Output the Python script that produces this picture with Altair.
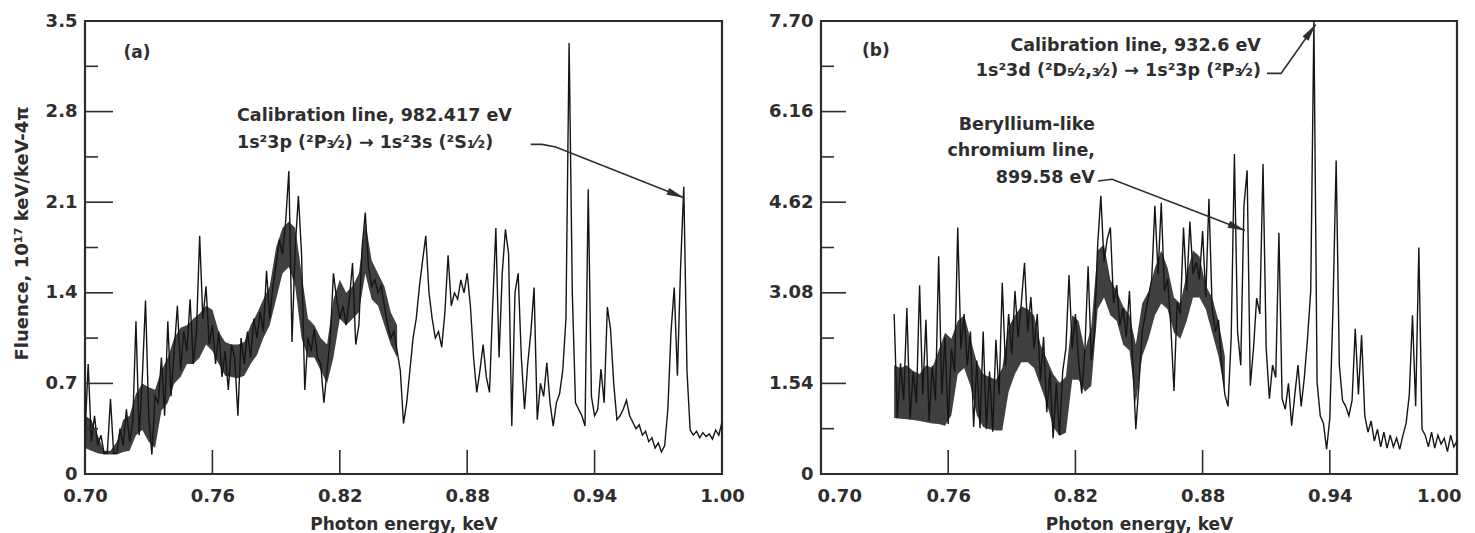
import altair as alt
import pandas as pd

# ---------------- data ----------------
STEP = 0.0015                 # keV between samples of the trace
A_START = 0.700               # first sample of panel (a)
A_FLUENCE = [
    0.30, 0.85, 0.25, 0.45, 0.22, 0.30, 0.16, 0.16, 0.58, 0.16,
    0.16, 0.35, 0.22, 0.50, 0.25, 0.40, 1.18, 0.30, 0.75, 1.34,
    0.45, 0.15, 0.60, 0.55, 0.90, 0.45, 1.18, 0.60, 0.95, 1.30,
    0.80, 1.10, 0.95, 1.35, 0.85, 1.10, 1.84, 1.20, 1.45, 1.00,
    1.15, 0.85, 1.10, 0.75, 0.95, 0.65, 1.00, 0.90, 0.45, 1.05,
    0.85, 1.10, 0.90, 1.20, 1.05, 1.25, 1.10, 1.57, 1.20, 1.45,
    1.62, 1.81, 1.70, 1.95, 2.34, 1.02, 1.75, 2.15, 1.70, 0.65,
    1.05, 0.95, 1.12, 0.90, 0.85, 0.55, 0.80, 1.05, 1.55, 1.35,
    1.20, 1.30, 1.15, 1.35, 1.63, 1.00, 1.15, 1.75, 2.02, 1.60,
    1.45, 1.50, 1.40, 1.45, 1.30, 1.15, 1.05, 1.10, 0.95, 0.80,
    0.39, 0.55, 0.80, 1.05, 1.20, 1.45, 1.65, 1.84, 1.40, 1.20,
    1.05, 1.10, 0.98, 1.25, 1.69, 1.30, 1.40, 1.35, 1.50, 1.40,
    1.55, 1.30, 0.90, 0.63, 0.80, 1.00, 0.75, 0.63, 1.30, 1.90,
    0.90, 1.55, 1.89, 1.70, 0.37, 1.40, 1.55, 0.90, 0.50, 0.85,
    1.10, 1.44, 0.42, 0.70, 0.60, 0.86, 0.55, 0.37, 0.55, 0.62,
    0.80, 1.20, 3.33, 1.40, 0.55, 0.50, 0.45, 0.37, 2.20, 0.60,
    0.45, 0.50, 0.81, 0.55, 1.29, 1.12, 0.70, 0.42, 0.45, 0.50,
    0.57, 0.45, 0.40, 0.35, 0.38, 0.30, 0.33, 0.25, 0.28, 0.20,
    0.24, 0.17, 0.22, 0.50, 1.10, 1.44, 0.76, 1.60, 2.22, 0.80,
    0.34, 0.30, 0.33, 0.28, 0.32, 0.29, 0.31, 0.27, 0.34, 0.30,
    0.40,
]
B_START = 0.7345              # first sample of panel (b)
B_FLUENCE = [
    2.72, 0.95, 1.88, 1.25, 2.82, 0.93, 1.74, 1.20, 3.21, 1.35,
    2.62, 0.90, 1.84, 1.25, 3.70, 1.35, 2.33, 0.85, 2.13, 1.74,
    4.19, 2.13, 2.72, 1.84, 2.42, 0.80, 1.93, 0.78, 2.42, 0.76,
    1.74, 0.72, 2.28, 1.35, 3.25, 1.84, 2.72, 2.03, 3.11, 2.33,
    2.91, 3.59, 2.42, 3.01, 2.13, 2.72, 1.59, 2.33, 1.05, 1.74,
    0.61, 1.54, 0.66, 1.74, 2.13, 3.38, 2.13, 2.72, 1.93, 1.37,
    2.13, 3.53, 1.93, 2.42, 3.89, 4.73, 3.60, 3.99, 4.19, 2.91,
    3.21, 2.52, 2.82, 2.33, 3.11, 1.93, 0.76, 1.54, 2.42, 2.72,
    3.01, 3.31, 4.56, 3.40, 4.61, 3.11, 3.31, 2.52, 1.41, 2.91,
    2.72, 4.19, 3.11, 4.29, 3.40, 3.60, 3.31, 4.13, 3.01, 4.68,
    2.82, 2.42, 2.62, 1.84, 1.35, 1.15, 2.33, 5.44, 2.42, 1.85,
    4.56, 5.16, 1.50, 2.13, 2.99, 2.72, 5.27, 2.13, 1.28, 1.85,
    1.64, 4.10, 1.28, 1.10, 1.54, 0.82, 1.35, 1.85, 1.15, 1.64,
    2.31, 3.11, 7.70, 1.56, 0.99, 0.86, 0.42, 0.95, 2.82, 5.33,
    1.85, 1.25, 1.15, 0.99, 1.25, 2.47, 1.35, 2.36, 0.99, 0.71,
    0.90, 0.56, 0.76, 0.46, 0.71, 0.44, 0.66, 0.46, 0.61, 0.42,
    0.66, 0.86, 1.35, 2.70, 1.15, 3.85, 0.76, 0.66, 0.46, 0.71,
    0.44, 0.66, 0.51, 0.61, 0.38, 0.66, 0.46, 0.56,
]

# dense noise core of the trace (lower / upper edge), sampled every 0.003 keV
BAND_STEP = 0.003
A_BAND_START = 0.700
A_BAND_LO = [
    0.20, 0.18, 0.16, 0.15, 0.15, 0.15, 0.17, 0.18, 0.30, 0.34,
    0.25, 0.20, 0.49, 0.55, 0.70, 0.75, 0.85, 0.85, 0.90, 1.00,
    0.95, 0.85, 0.76, 0.75, 0.74, 0.76, 0.85, 0.92, 1.05, 1.15,
    1.35, 1.55, 1.60, 1.45, 1.05, 0.90, 0.90, 0.80, 0.70, 0.90,
    1.20, 1.15, 1.20, 1.25, 1.55, 1.35, 1.30, 1.15, 1.00, 0.90,
]
A_BAND_HI = [
    0.45, 0.42, 0.30, 0.18, 0.18, 0.25, 0.42, 0.45, 0.62, 0.70,
    0.67, 0.65, 0.80, 0.90, 1.05, 1.13, 1.15, 1.20, 1.24, 1.30,
    1.27, 1.10, 1.02, 1.00, 1.00, 1.02, 1.15, 1.24, 1.35, 1.45,
    1.75, 1.90, 1.95, 1.90, 1.55, 1.20, 1.15, 1.05, 1.00, 1.35,
    1.50, 1.40, 1.45, 1.55, 1.95, 1.65, 1.55, 1.45, 1.25, 1.15,
]
B_BAND_START = 0.7345
B_BAND_LO = [
    0.95, 0.94, 0.93, 0.92, 0.90, 0.88, 0.86, 0.85, 0.82, 1.00,
    1.70, 1.80, 1.50, 1.00, 0.80, 0.76, 0.74, 0.74, 1.40, 1.70,
    1.90, 1.90, 1.80, 1.50, 1.20, 0.80, 0.65, 0.70, 1.60, 1.60,
    1.40, 1.50, 2.80, 3.00, 2.70, 2.60, 2.20, 2.10, 1.20, 2.00,
    2.30, 2.70, 2.90, 2.80, 2.40, 2.30, 2.60, 3.00, 3.00, 2.80,
    2.40, 2.00, 1.40,
]
B_BAND_HI = [
    1.85, 1.80, 1.85, 1.75, 1.70, 1.85, 1.80, 2.10, 2.40, 2.30,
    2.60, 2.70, 2.30, 1.90, 1.70, 1.65, 1.60, 1.80, 2.50, 2.70,
    2.85, 2.80, 2.70, 2.20, 1.95, 1.70, 1.55, 1.65, 2.70, 2.60,
    2.10, 2.50, 3.80, 3.90, 3.30, 3.10, 2.85, 2.70, 2.20, 2.90,
    3.10, 3.50, 3.80, 3.50, 3.00, 2.90, 3.40, 3.80, 3.70, 3.20,
    3.00, 2.60, 2.00,
]

X_TICKS = [0.70, 0.76, 0.82, 0.88, 0.94, 1.00]
X_INNER = [0.76, 0.82, 0.88, 0.94]
A_YTICKS = [0, 0.7, 1.4, 2.1, 2.8, 3.5]
A_YMINOR = [0.35, 1.05, 1.75, 2.45, 3.15]
B_YTICKS = [0, 1.54, 3.08, 4.62, 6.16, 7.70]
B_YMINOR = [0.77, 2.31, 3.85, 5.39, 6.93]

A_TEXT_E = [0.7716, 0.7716]
A_TEXT_V = [2.727, 2.52]
A_TEXT = ["Calibration line, 982.417 eV", "1s²3p (²P₃⁄₂) → 1s²3s (²S₁⁄₂)"]
A_ARROW_E = [0.9099, 0.9152, 0.9217, 0.9821]
A_ARROW_V = [2.547, 2.547, 2.526, 2.135]

B_CAL_E = [0.9075, 0.9075]
B_CAL_V = [7.19, 6.76]
B_CAL_TEXT = ["Calibration line, 932.6 eV", "1s²3d (²D₅⁄₂,₃⁄₂) → 1s²3p (²P₃⁄₂)"]
B_CAL_ARROW_E = [0.9104, 0.9170, 0.9333]
B_CAL_ARROW_V = [6.81, 6.81, 7.64]
B_BE_E = [0.8292, 0.8292, 0.8292]
B_BE_V = [5.85, 5.41, 4.95]
B_BE_TEXT = ["Beryllium-like", "chromium line,", "899.58 eV"]
B_BE_ARROW_E = [0.8307, 0.8373, 0.9000]
B_BE_ARROW_V = [4.98, 5.01, 4.14]

# ---------------- styling ----------------
FONT = "DejaVu Sans"
INK = "#2e2e2e"
W_A, W_B, H = 637, 636, 453
HEAD = "M0,0L-2,-0.42L-2,0.42Z"


def spectrum_df(start, values):
    return pd.DataFrame({"e": [round(start + i * STEP, 4) for i in range(len(values))],
                         "v": values})


def band_df(start, lo, hi):
    return pd.DataFrame({"e": [round(start + i * BAND_STEP, 4) for i in range(len(lo))],
                         "v": lo, "v2": hi})


def panel(df, band, ymax, yticks, yminor, yfmt, ytitle, width, major_len, texts, arrows,
          plabel, flush):
    xs = alt.Scale(domain=[0.70, 1.00], nice=False, zero=False)
    ys = alt.Scale(domain=[0, ymax], nice=False, zero=False)
    x_extra = dict(labelFlush=True, labelFlushOffset=4) if flush else dict(labelFlush=False)
    x_axis = alt.Axis(values=X_TICKS, format=".2f", ticks=False, domain=False, grid=False,
                      labelPadding=13, labelOverlap=False,
                      labelFont=FONT, labelFontSize=18, labelFontWeight="bold", labelColor=INK,
                      title="Photon energy, keV", titleFont=FONT, titleFontSize=17,
                      titleFontWeight="bold", titleColor=INK, titlePadding=11, **x_extra)
    y_extra = dict(titleY=212) if ytitle else {}
    y_axis = alt.Axis(values=yticks, ticks=False, domain=False, grid=False,
                      labelExpr=f"datum.value == 0 ? '0' : format(datum.value, '{yfmt}')",
                      labelPadding=8, labelFlush=False, labelOverlap=False,
                      labelFont=FONT, labelFontSize=18, labelFontWeight="bold", labelColor=INK,
                      title=ytitle if ytitle else "", titleFont=FONT, titleFontSize=18,
                      titleFontWeight="bold", titleColor=INK, titlePadding=14, **y_extra)

    def X(f="e:Q"):
        return alt.X(f, scale=xs, axis=x_axis)

    def Y(f="v:Q"):
        return alt.Y(f, scale=ys, axis=y_axis)

    layers = []
    frame = pd.DataFrame({"e": [0.70], "e2": [1.00], "v": [0.0], "v2": [ymax]})
    layers.append(alt.Chart(frame).mark_rect(fill=None, stroke="#2b2b2b", strokeWidth=2.2).encode(
        x=X(), x2="e2:Q", y=Y(), y2="v2:Q"))

    layers.append(alt.Chart(band).mark_area(color="#1e1e1e", opacity=0.85, clip=True,
                                            interpolate="linear").encode(
        x=X(), y=Y(), y2="v2:Q"))

    layers.append(alt.Chart(df).mark_line(color="#151515", strokeWidth=1.4, clip=True).encode(
        x=X(), y=Y()))

    ymaj = pd.DataFrame({"v": [t for t in yticks if 0 < t < ymax]})
    layers.append(alt.Chart(ymaj).mark_rule(color=INK, strokeWidth=1.6).encode(
        y=Y(), x=alt.value(0), x2=alt.value(major_len)))
    ymin = pd.DataFrame({"v": yminor})
    layers.append(alt.Chart(ymin).mark_rule(color=INK, strokeWidth=1.6).encode(
        y=Y(), x=alt.value(0), x2=alt.value(13)))
    xin = pd.DataFrame({"e": X_INNER})
    layers.append(alt.Chart(xin).mark_rule(color=INK, strokeWidth=1.6).encode(
        x=X(), y=alt.value(H), y2=alt.value(H - 24)))

    lab = pd.DataFrame({"e": [plabel[0]], "v": [plabel[1]], "t": [plabel[2]]})
    layers.append(alt.Chart(lab).mark_text(font=FONT, fontSize=17, fontWeight="bold",
                                           color=INK, align="center", baseline="middle").encode(
        x=X(), y=Y(), text="t:N"))

    for (es, vs, ts, align) in texts:
        tdf = pd.DataFrame({"e": es, "v": vs, "t": ts})
        layers.append(alt.Chart(tdf).mark_text(font=FONT, fontSize=17.5, fontWeight="bold",
                                               color=INK, align=align,
                                               baseline="alphabetic").encode(
            x=X(), y=Y(), text="t:N"))

    for (es, vs, ang) in arrows:
        adf = pd.DataFrame({"e": es, "v": vs, "k": list(range(len(es)))})
        layers.append(alt.Chart(adf).mark_line(color=INK, strokeWidth=1.6).encode(
            x=X(), y=Y(), order="k:Q"))
        hdf = pd.DataFrame({"e": [es[-1]], "v": [vs[-1]], "a": [ang]})
        layers.append(alt.Chart(hdf).mark_point(shape=HEAD, filled=True, size=300,
                                                color=INK, opacity=1).encode(
            x=X(), y=Y(), angle=alt.Angle("a:Q", scale=None)))

    return alt.layer(*layers).properties(width=width, height=H)


panel_a = panel(spectrum_df(A_START, A_FLUENCE), band_df(A_BAND_START, A_BAND_LO, A_BAND_HI),
                3.5, A_YTICKS, A_YMINOR, ".1f",
                "Fluence, 10¹⁷ keV/keV-4π", W_A, 28,
                [(A_TEXT_E, A_TEXT_V, A_TEXT, "left")],
                [(A_ARROW_E, A_ARROW_V, 21.6)],
                (0.7245, 3.25, "(a)"), False)

panel_b = panel(spectrum_df(B_START, B_FLUENCE), band_df(B_BAND_START, B_BAND_LO, B_BAND_HI),
                7.70, B_YTICKS, B_YMINOR, ".2f",
                None, W_B, 25,
                [(B_CAL_E, B_CAL_V, B_CAL_TEXT, "right"),
                 (B_BE_E, B_BE_V, B_BE_TEXT, "right")],
                [(B_CAL_ARROW_E, B_CAL_ARROW_V, 305.7),
                 (B_BE_ARROW_E, B_BE_ARROW_V, 21.0)],
                (0.7259, 7.19, "(b)"), True)

chart = alt.hconcat(panel_a, panel_b, spacing=99, bounds="flush").properties(
    padding={"left": 4, "top": 3, "right": 0, "bottom": 0}
).configure_view(stroke=None).configure(background="white")

chart.save("out.html", embed_options={"renderer": "svg", "actions": False})
